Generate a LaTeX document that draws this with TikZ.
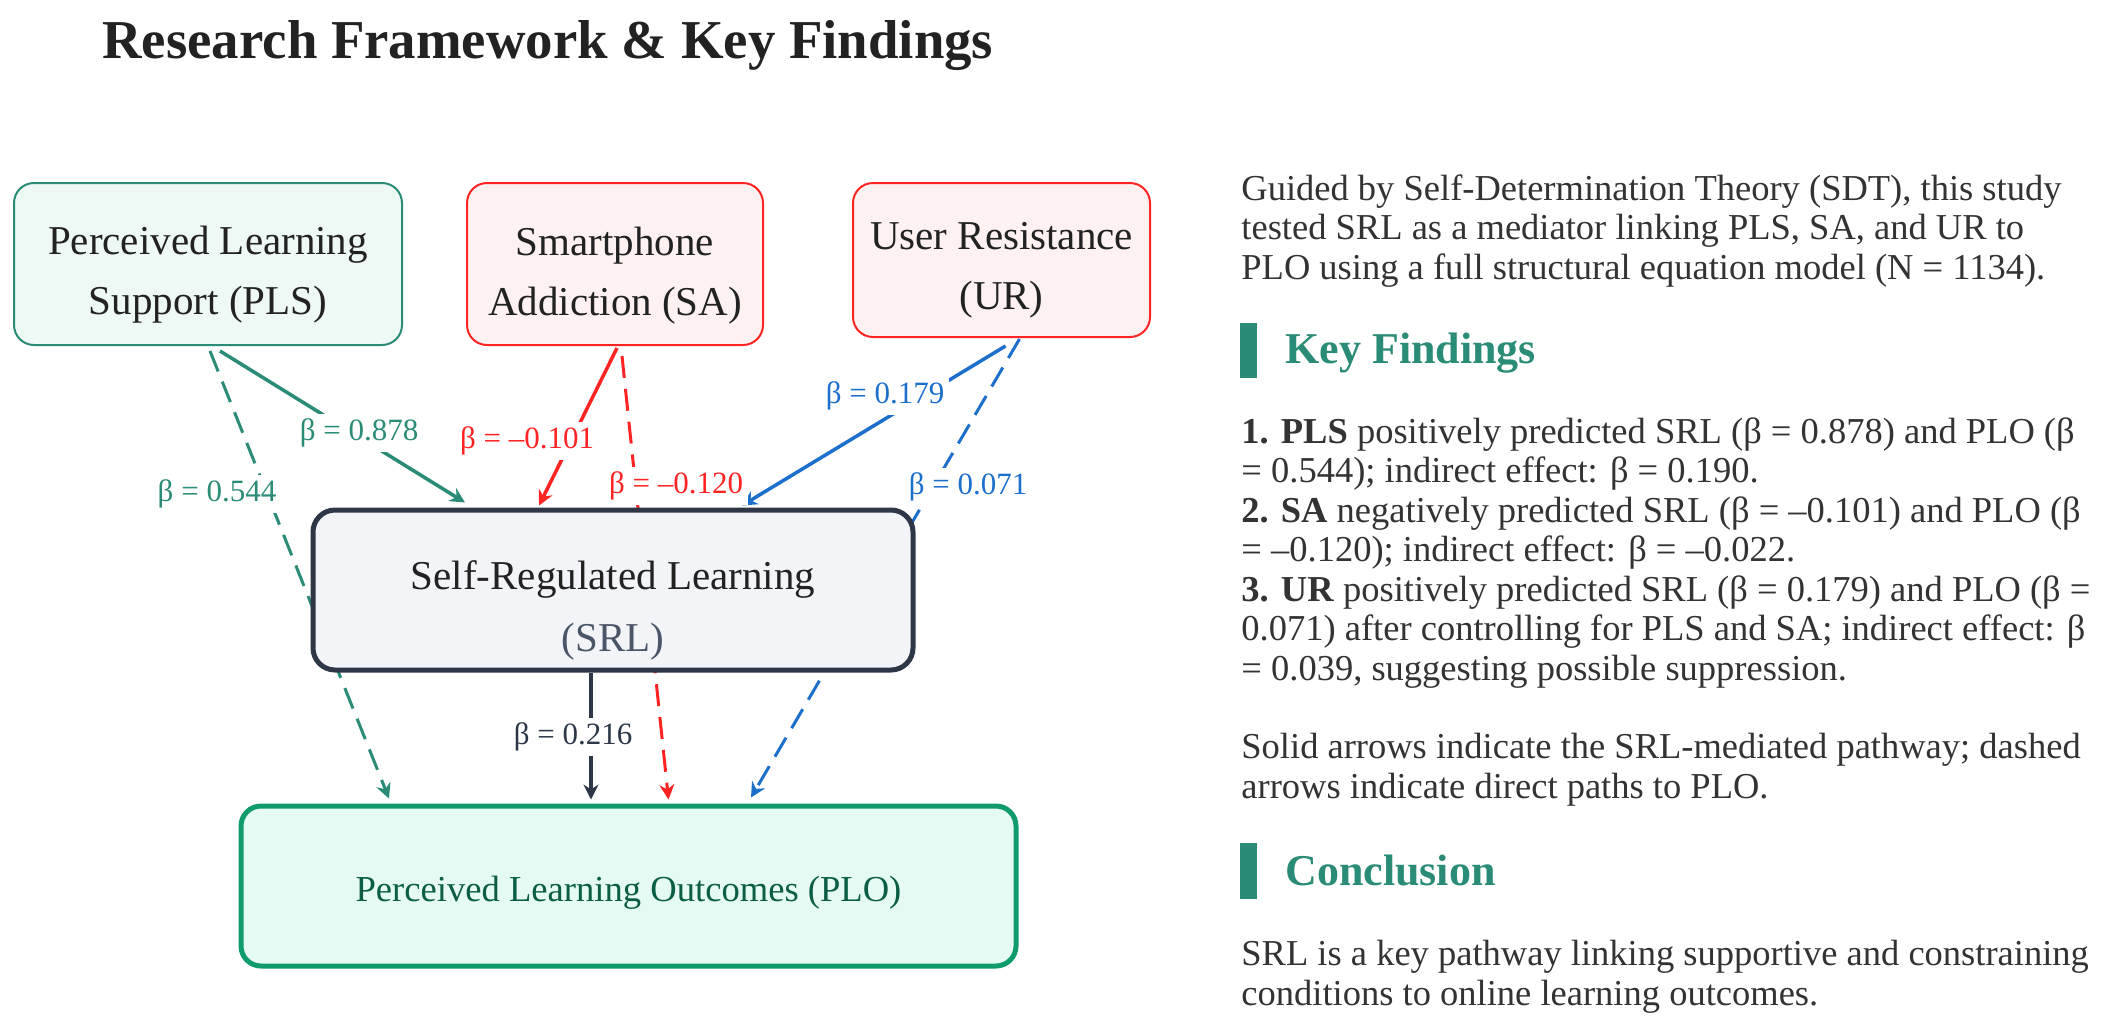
\documentclass[tikz,border=0pt]{standalone}
\usepackage{fontspec}
\setmainfont{Liberation Serif}
\usetikzlibrary{arrows.meta,calc}
\pgfdeclarelayer{bg}
\pgfdeclarelayer{edges}
\pgfsetlayers{bg,edges,main}
\definecolor{cTeal}{HTML}{2A8C76}
\definecolor{cRed}{HTML}{FF2424}
\definecolor{cBlue}{HTML}{1C6FCB}
\definecolor{cNavy}{HTML}{2D3748}
\definecolor{cGreen}{HTML}{109B6E}
\definecolor{cPLOtext}{HTML}{0B5E45}
\definecolor{cSRLsub}{HTML}{4A5568}
\definecolor{cText}{HTML}{333333}
\definecolor{cTitle}{HTML}{222222}
\definecolor{fPLS}{HTML}{EEF8F5}
\definecolor{fRed}{HTML}{FEF1F1}
\definecolor{fSRL}{HTML}{F2F4F7}
\definecolor{fPLO}{HTML}{E5FAF2}
\begin{document}
\begin{tikzpicture}[x=0.5pt,y=-0.5pt,
  boxbase/.style={rounded corners=10pt, inner sep=0pt},
  boxpls/.style={boxbase, draw=cTeal, line width=1pt, fill=fPLS, minimum width=194pt, minimum height=81pt},
  boxsa/.style={boxbase, draw=cRed, line width=1pt, fill=fRed, minimum width=148pt, minimum height=81pt},
  boxur/.style={boxbase, draw=cRed, line width=1pt, fill=fRed, minimum width=148.5pt, minimum height=77pt},
  boxsrl/.style={boxbase, draw=cNavy, line width=2.5pt, fill=fSRL, minimum width=300pt, minimum height=80pt, rounded corners=11pt},
  boxplo/.style={boxbase, draw=cGreen, line width=2.5pt, fill=fPLO, minimum width=387.5pt, minimum height=80pt},
  boxtext/.style={align=center, inner sep=0pt, text=cTitle, font=\fontsize{20.5}{30}\selectfont},
  solidarrow/.style={line width=1.75pt, -{Stealth[length=7.5pt,width=7.5pt,inset=2.5pt]}},
  dasharrow/.style={line width=1.5pt, dash pattern=on 11pt off 5.5pt, -{Stealth[length=7.5pt,width=7.5pt,inset=2.5pt]}},
  lab/.style={fill=white, inner sep=2.5pt, font=\fontsize{15.5}{18}\selectfont},
  body/.style={anchor=base west, align=left, inner sep=0pt, text=cText, font=\fontsize{18.25}{19.75}\selectfont},
  headbar/.style={fill=cTeal, inner sep=0pt, minimum width=8.5pt},
  headtext/.style={anchor=base west, inner sep=0pt, text=cTeal, font=\bfseries\fontsize{22}{26}\selectfont}
]
\useasboundingbox (0,0) rectangle (2120,1029);
\begin{pgfonlayer}{bg}
\fill[white] (0,0) rectangle (2120,1029);
\end{pgfonlayer}

% title
\node[anchor=base west, inner sep=0pt, text=cTitle, font=\bfseries\fontsize{27.4}{32}\selectfont] (title) at (102,58) {Research Framework \& Key Findings};

% boxes
\node[boxpls] (PLS) at (208,264) {};
\node[boxsa] (SA) at (615,264) {};
\node[boxur] (UR) at (1001.5,260) {};
\node[boxsrl] (SRL) at (613,590) {};
\node[boxplo] (PLO) at (628.5,886) {};

% box texts
\node[boxtext] (PLSt) at ($(PLS.center)+(0,11)$) {Perceived Learning\\Support (PLS)};
\node[boxtext] (SAt) at ($(SA.center)+(0,12)$) {Smartphone\\Addiction (SA)};
\node[boxtext] (URt) at ($(UR.center)+(0,10)$) {User Resistance\\(UR)};
\node[boxtext, font=\fontsize{20.5}{31}\selectfont] (SRLt) at ($(SRL.center)+(0,20)$) {Self-Regulated Learning\\\textcolor{cSRLsub}{(SRL)}};
\node[boxtext, text=cPLOtext, font=\fontsize{18.3}{22}\selectfont] (PLOt) at ($(PLO.center)+(0,7)$) {Perceived Learning Outcomes (PLO)};

% connectors
\begin{pgfonlayer}{edges}
\draw[solidarrow, cTeal] ($(PLS.south)+(12,5)$) -- ($(SRL.north)+(-148,-5)$);
\draw[dasharrow, cTeal] ($(PLS.south)+(2,5)$) -- ($(PLO.north)+(-239.5,-5)$);
\draw[solidarrow, cRed] ($(SA.south)+(2,2)$) -- ($(SRL.north)+(-74,-2)$);
\draw[dasharrow, cRed] ($(SA.south)+(7,10)$) -- ($(PLO.north)+(40,-4)$);
\draw[solidarrow, cBlue] ($(UR.south)+(4,8)$) -- ($(SRL.north)+(129,-2)$);
\draw[dasharrow, cBlue] ($(UR.south)+(18,1)$) -- ($(PLO.north)+(122.5,-6)$);
\draw[solidarrow, cNavy] ($(SRL.south)+(-22,0)$) -- ($(PLO.north)+(-37.5,-4)$);
\end{pgfonlayer}

% path labels
\node[lab, text=cTeal] (l878) at (359,433) {β = 0.878};
\node[lab, text=cTeal] (l544) at (217,494) {β = 0.544};
\node[lab, text=cRed] (l101) at (527,441) {β = –0.101};
\node[lab, text=cRed] (l120) at (676,486) {β = –0.120};
\node[lab, text=cBlue] (l179) at (885,396) {β = 0.179};
\node[lab, text=cBlue] (l071) at (968,487) {β = 0.071};
\node[lab, text=cNavy] (l216) at (573,737) {β = 0.216};

% right panel (anchored at the baseline of the last line)
\node[body] (intro) at (1241,279) {Guided by Self-Determination Theory (SDT), this study\\tested SRL as a mediator linking PLS, SA, and UR to\\PLO using a full structural equation model (N = 1134).};

\node[headbar, minimum height=27.5pt] (kfbar) at (1248.5,350.5) {};
\node[headtext] (kf) at (1285,363) {Key Findings};

\node[body] (findings) at (1241,680) {\textbf{1. PLS} positively predicted SRL (β = 0.878) and PLO (β\\= 0.544); indirect effect: β = 0.190.\\\textbf{2. SA} negatively predicted SRL (β = –0.101) and PLO (β\\= –0.120); indirect effect: β = –0.022.\\\textbf{3. UR} positively predicted SRL (β = 0.179) and PLO (β =\\0.071) after controlling for PLS and SA; indirect effect: β\\= 0.039, suggesting possible suppression.};

\node[body] (legend) at (1241,798) {Solid arrows indicate the SRL-mediated pathway; dashed\\arrows indicate direct paths to PLO.};

\node[headbar, minimum height=28pt] (cbar) at (1248.5,871) {};
\node[headtext] (concl) at (1285,885) {Conclusion};

\node[body] (conclt) at (1241,1005) {SRL is a key pathway linking supportive and constraining\\conditions to online learning outcomes.};
\end{tikzpicture}
\end{document}
